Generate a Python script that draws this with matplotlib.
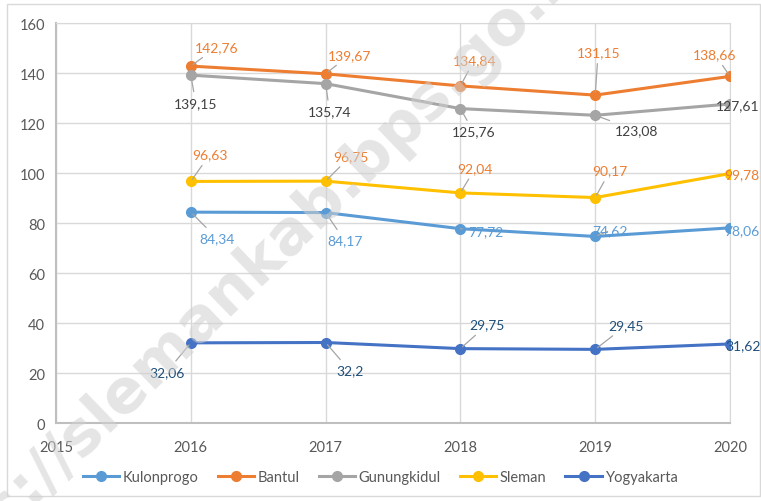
import matplotlib
matplotlib.use("Agg")
import matplotlib.pyplot as plt
from matplotlib.patches import Rectangle

years = [2016, 2017, 2018, 2019, 2020]
kulonprogo = [84.34, 84.17, 77.72, 74.62, 78.06]
bantul = [142.76, 139.67, 134.84, 131.15, 138.66]
gunungkidul = [139.15, 135.74, 125.76, 123.08, 127.61]
sleman = [96.63, 96.75, 92.04, 90.17, 99.78]
yogyakarta = [32.06, 32.2, 29.75, 29.45, 31.62]
series_names = ["Kulonprogo", "Bantul", "Gunungkidul", "Sleman", "Yogyakarta"]
xticks = [2015, 2016, 2017, 2018, 2019, 2020]
yticks = [0, 20, 40, 60, 80, 100, 120, 140, 160]

plt.rcParams['font.family'] = ['Lato', 'DejaVu Sans']

line_colors = ["#5B9BD5", "#ED7D31", "#A5A5A5", "#FFC000", "#4472C4"]
label_colors = ["#5B9BD5", "#ED7D31", "#404040", "#ED7D31", "#1F4E79"]

# label offsets in pixels (dx, dy) relative to point, and whether to draw leader
offsets = {
    "Kulonprogo": [(26, -26, True), (19, -28, True), (25, -2, True), (15, 6, True), (12, -2, False)],
    "Bantul": [(26, 19, True), (24, 19, True), (14, 26, True), (3, 43, True), (-15, 22, True)],
    "Gunungkidul": [(5, -28, True), (4, -28, True), (13, -23, True), (41, -15, True), (8, -1, False)],
    "Sleman": [(19, 27, True), (25, 25, True), (15, 25, True), (15, 27, True), (12, -1, False)],
    "Yogyakarta": [(-24, -29, True), (24, -28, True), (27, 24, True), (31, 24, True), (13, -1, False)],
}

fig = plt.figure(figsize=(7.61, 5.02), dpi=100)
fig.patches.append(Rectangle((7/761, 5/502), 753/761, 492/502, transform=fig.transFigure,
                             fill=False, edgecolor="#D9D9D9", lw=1))
ax = fig.add_axes([56/761, 1-424/502, (730-56)/761, (424-24)/502])

data = [kulonprogo, bantul, gunungkidul, sleman, yogyakarta]
for name, vals, lc, tc in zip(series_names, data, line_colors, label_colors):
    ax.plot(years, vals, color=lc, lw=2.2, marker='o', markersize=7, label=name, zorder=3)
    for x, v, (dx, dy, lead) in zip(years, vals, offsets[name]):
        txt = f"{v:g}".replace('.', ',')
        kw = dict(xytext=(dx, dy), textcoords='offset pixels', ha='center', va='center',
                  fontsize=10, color=tc, zorder=4, annotation_clip=False)
        if lead:
            kw['arrowprops'] = dict(arrowstyle='-', color='#A5A5A5', lw=0.9,
                                    shrinkA=2, shrinkB=2)
        ax.annotate(txt, (x, v), **kw)

ax.set_xlim(2015, 2020)
ax.set_ylim(0, 160)
ax.set_xticks(xticks)
ax.set_yticks(yticks)
ax.grid(True, color="#D9D9D9", lw=1)
ax.set_axisbelow(True)
ax.tick_params(length=0, labelsize=10.5, labelcolor="#595959", pad=8)
ax.tick_params(axis='x', pad=12)
for s in ['top', 'right']:
    ax.spines[s].set_color("#D9D9D9")
for s in ['left', 'bottom']:
    ax.spines[s].set_color("#BFBFBF")
    ax.spines[s].set_linewidth(1.5)

leg = fig.legend(loc='center', bbox_to_anchor=(0.5, 1-478/502), ncol=5, frameon=False,
                 fontsize=10.5, handlelength=2.5, columnspacing=1.3, handletextpad=0.25,
                 labelcolor="#595959")

fig.text(236/761, 1-284/502, "https://slemankab.bps.go.id", rotation=44, fontsize=44,
         fontweight='bold', color="#D0D0D0", alpha=0.55, ha='center', va='center',
         rotation_mode='anchor', zorder=10, family='DejaVu Sans')

fig.savefig("out.png", dpi=100)
